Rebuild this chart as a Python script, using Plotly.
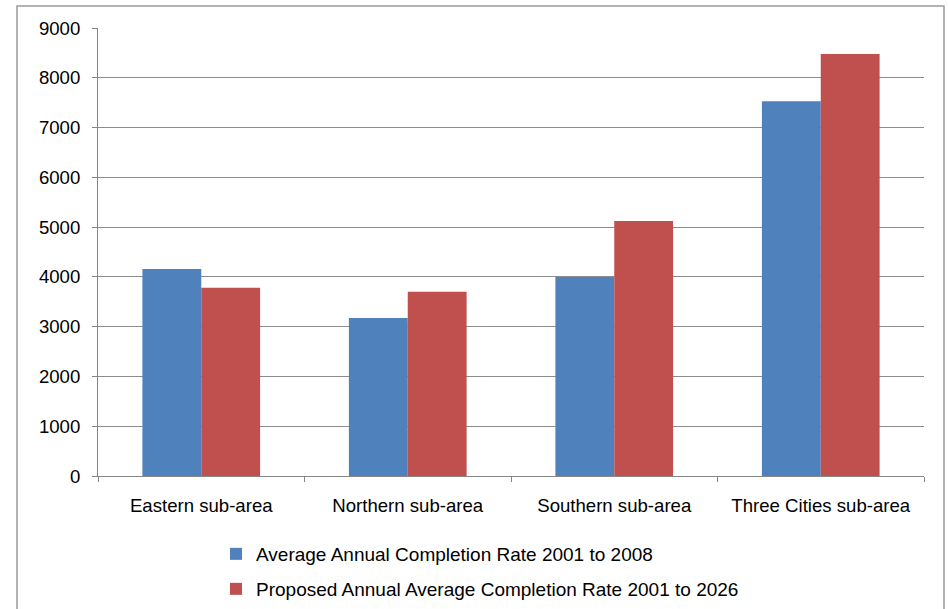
import plotly.graph_objects as go

categories = ["Eastern sub-area", "Northern sub-area", "Southern sub-area", "Three Cities sub-area"]
series1_name = "Average Annual Completion Rate 2001 to 2008"
series1 = [4160, 3175, 4000, 7530]
series2_name = "Proposed Annual Average Completion Rate 2001 to 2026"
series2 = [3780, 3700, 5125, 8480]
y_ticks = [0, 1000, 2000, 3000, 4000, 5000, 6000, 7000, 8000, 9000]

W, H = 948, 609
L, R, T, B = 98, 24, 28, 133
pw, ph = W - L - R, H - T - B

def px(x):
    return (x - L) / pw

def py(y):
    return (H - B - y) / ph

fig = go.Figure()
fig.add_trace(go.Bar(x=categories, y=series1, name=series1_name,
                     marker=dict(color="#4F81BD", line=dict(width=0)), legend="legend"))
fig.add_trace(go.Bar(x=categories, y=series2, name=series2_name,
                     marker=dict(color="#C0504D", line=dict(width=0)), legend="legend2"))

font = dict(family="Liberation Sans, Arial, sans-serif", size=18.6, color="#000000")
leg_font = dict(family="Liberation Sans, Arial, sans-serif", size=19, color="#000000")

fig.update_layout(
    width=W, height=H,
    margin=dict(l=L, r=R, t=T, b=B, pad=0, autoexpand=False),
    paper_bgcolor="white", plot_bgcolor="white",
    font=font,
    barmode="group", bargap=0.43, bargroupgap=0,
    showlegend=True,
    legend=dict(xref="container", yref="container", x=216 / W, y=1 - 535 / H,
                xanchor="left", yanchor="top",
                bgcolor="rgba(0,0,0,0)", font=leg_font, itemwidth=30,
                tracegroupgap=0),
    legend2=dict(xref="container", yref="container", x=216 / W, y=1 - 570 / H,
                 xanchor="left", yanchor="top",
                 bgcolor="rgba(0,0,0,0)", font=leg_font, itemwidth=30,
                 tracegroupgap=0),
    xaxis=dict(showgrid=False, showline=True, linecolor="#868686", linewidth=1,
               ticks="outside", ticklen=5, tickcolor="#868686", tickson="boundaries",
               ticklabelstandoff=13, fixedrange=True),
    yaxis=dict(range=[0, 9000], tickvals=y_ticks, showgrid=True, gridcolor="#8c8c8c",
               gridwidth=1, showline=True, linecolor="#868686", linewidth=1,
               ticks="outside", ticklen=5, tickcolor="#868686", zeroline=False,
               ticklabelstandoff=8),
    shapes=[dict(type="rect", xref="paper", yref="paper",
                 x0=px(17), x1=px(944), y0=py(660), y1=py(6),
                 line=dict(color="#9a9a9a", width=1.5), fillcolor="rgba(0,0,0,0)",
                 layer="below")],
)

fig.write_html("out.html")
